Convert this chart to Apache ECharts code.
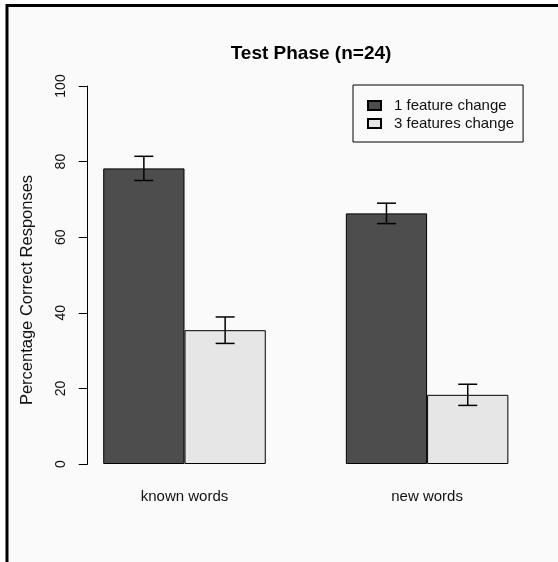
<!DOCTYPE html>
<html>
<head>
<meta charset="utf-8">
<script src="https://cdn.jsdelivr.net/npm/echarts@6/dist/echarts.min.js"></script>
<style>
  html, body { margin: 0; padding: 0; background: #fff; }
  #chart { width: 558px; height: 562px; }
</style>
</head>
<body>
<div id="chart"></div>
<script>
// values
var categories = ['known words', 'new words']
var seriesNames = ['1 feature change', '3 features change']
var oneFeature = [78.2, 66.3]
var oneFeatureErr = [3.2, 2.7]
var threeFeatures = [35.4, 18.3]
var threeFeaturesErr = [3.5, 2.8]
var yMin = 0
var yMax = 100
var yStep = 20

var catGap = 0.33 // share of a category band left empty

function errData(means, errs) {
  return means.map(function (m, i) {
    return [i, m, errs[i]]
  })
}

// side: -1 left bar of a group, +1 right bar
function errorBar(side) {
  return function (params, api) {
    var i = api.value(0)
    var m = api.value(1)
    var e = api.value(2)
    var band = api.size([1, 0])[0]
    var shift = side * band * (1 - catGap) / 4
    var top = api.coord([i, m + e])
    var bot = api.coord([i, m - e])
    var x = top[0] + shift
    var cap = 9.5
    var style = { stroke: '#000', lineWidth: 1.5 }
    return {
      type: 'group',
      children: [
        { type: 'line', shape: { x1: x, y1: top[1], x2: x, y2: bot[1] }, style: style },
        { type: 'line', shape: { x1: x - cap, y1: top[1], x2: x + cap, y2: top[1] }, style: style },
        { type: 'line', shape: { x1: x - cap, y1: bot[1], x2: x + cap, y2: bot[1] }, style: style },
      ],
    }
  }
}

var chart = echarts.init(document.getElementById('chart'))
var font = "'Liberation Sans', Arial, sans-serif"

var option = {
  backgroundColor: '#ffffff',
  animation: false,
  textStyle: { fontFamily: font },
  graphic: [
    {
      type: 'rect',
      z: -100,
      silent: true,
      shape: { x: 7, y: 5.5, width: 700, height: 700 },
      style: { fill: '#fafafa', stroke: '#000', lineWidth: 3 },
    },
  ],
  title: {
    text: 'Test Phase (n=24)',
    left: 306,
    top: 39,
    textAlign: 'center',
    textStyle: { fontFamily: font, fontSize: 19, fontWeight: 'bold', color: '#000' },
  },
  legend: {
    orient: 'vertical',
    left: 353,
    top: 85,
    padding: [13, 9, 11, 14],
    itemGap: 3,
    itemWidth: 13,
    itemHeight: 9,
    icon: 'rect',
    borderColor: '#000',
    borderWidth: 1,
    backgroundColor: '#fafafa',
    data: seriesNames,
    textStyle: { fontFamily: font, fontSize: 15, color: '#111', lineHeight: 15, padding: [0, 0, 0, 8] },
  },
  grid: {
    left: 63.2,
    right: 558 - 548.4,
    top: 86,
    bottom: 562 - 464,
    containLabel: false,
  },
  xAxis: {
    type: 'category',
    data: categories,
    axisLine: { show: false },
    axisTick: { show: false },
    axisLabel: { fontFamily: font, fontSize: 15, color: '#111', margin: 25 },
  },
  yAxis: {
    type: 'value',
    min: yMin,
    max: yMax,
    interval: yStep,
    offset: -24.5,
    name: 'Percentage Correct Responses',
    nameLocation: 'middle',
    nameRotate: 90,
    nameGap: 52,
    nameTextStyle: { fontFamily: font, fontSize: 16.5, color: '#111', padding: [0, 30, 0, 0] },
    splitLine: { show: false },
    axisLine: { show: true, lineStyle: { color: '#000', width: 1 } },
    axisTick: { show: true, length: 9, lineStyle: { color: '#000' } },
    axisLabel: { fontFamily: font, fontSize: 14, color: '#111', rotate: 90, margin: 20 },
  },
  series: [
    {
      name: seriesNames[0],
      type: 'bar',
      data: oneFeature,
      barGap: '0%',
      barCategoryGap: catGap * 100 + '%',
      itemStyle: { color: '#4D4D4D', borderColor: '#000', borderWidth: 1 },
    },
    {
      name: seriesNames[1],
      type: 'bar',
      data: threeFeatures,
      barGap: '0%',
      barCategoryGap: catGap * 100 + '%',
      itemStyle: { color: '#E6E6E6', borderColor: '#000', borderWidth: 1 },
    },
    {
      type: 'custom',
      renderItem: errorBar(-1),
      data: errData(oneFeature, oneFeatureErr),
      z: 5,
    },
    {
      type: 'custom',
      renderItem: errorBar(1),
      data: errData(threeFeatures, threeFeaturesErr),
      z: 5,
    },
  ],
}
chart.setOption(option)
</script>
</body>
</html>
